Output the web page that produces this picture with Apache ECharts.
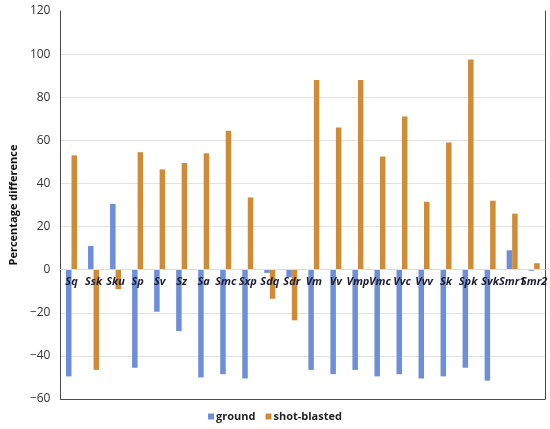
<!DOCTYPE html>
<html>
<head>
<meta charset="utf-8">
<script src="https://cdn.jsdelivr.net/npm/echarts@6/dist/echarts.min.js"></script>
<style>
  html, body { margin: 0; padding: 0; background: #fff; }
  #chart { width: 550px; height: 429px; }
</style>
</head>
<body>
<div id="chart"></div>
<script>
const categories = ['Sq', 'Ssk', 'Sku', 'Sp', 'Sv', 'Sz', 'Sa', 'Smc', 'Sxp', 'Sdq', 'Sdr',
  'Vm', 'Vv', 'Vmp', 'Vmc', 'Vvc', 'Vvv', 'Sk', 'Spk', 'Svk', 'Smr1', 'Smr2'];
const ground = [-49.5, 11, 30.5, -45.5, -19.5, -28.5, -50, -48.5, -50.5, -1.5, -3.5,
  -46.5, -48.5, -46.5, -49.5, -48.5, -50.5, -49.5, -45.5, -51.5, 9, -0.5];
const shotBlasted = [53, -46.5, -9, 54.5, 46.5, 49.5, 54, 64.5, 33.5, -13.5, -23.5,
  88, 66, 88, 52.5, 71, 31.5, 59, 97.5, 32, 26, 3];

const yMin = -60, yMax = 120;
const gridTop = 11, gridBottom = 30;
const chartHeight = 429;
const frameColor = '#4a4a4a';

const chart = echarts.init(document.getElementById('chart'), null, { renderer: 'canvas' });

// x labels sit just under the zero line, so shift the axis up from the bottom
const plotH = chartHeight - gridTop - gridBottom;
const zeroOffset = -plotH * (0 - yMin) / (yMax - yMin);

const frameAxis = { show: true, lineStyle: { color: frameColor } };

chart.setOption({
  animation: false,
  color: ['#6F8ED8', '#CF8C38'],
  grid: {
    left: 44,
    right: 3,
    top: gridTop,
    bottom: gridBottom
  },
  legend: {
    bottom: 2,
    left: 'center',
    itemWidth: 6,
    itemHeight: 6,
    itemGap: 10,
    icon: 'rect',
    textStyle: { fontFamily: 'Open Sans', fontWeight: 'bold', fontSize: 11, color: '#222', padding: [0, 0, 0, -3] },
    data: ['ground', 'shot-blasted']
  },
  xAxis: [
    {
      type: 'category',
      data: categories,
      position: 'bottom',
      offset: zeroOffset,
      z: 5,
      axisLine: { onZero: false, lineStyle: { color: '#ddd' } },
      axisTick: { show: false },
      axisLabel: {
        interval: 0,
        margin: 7,
        fontFamily: 'Open Sans',
        fontStyle: 'italic',
        fontWeight: 'bold',
        fontSize: 11,
        color: '#1c1c33'
      }
    },
    // frame: top and bottom edges
    { type: 'category', data: categories, position: 'top', axisLine: frameAxis,
      axisTick: { show: false }, axisLabel: { show: false } },
    { type: 'category', data: categories, position: 'bottom', axisLine: { onZero: false, show: true, lineStyle: { color: frameColor } },
      axisTick: { show: false }, axisLabel: { show: false } }
  ],
  yAxis: [
    {
      type: 'value',
      min: yMin,
      max: yMax,
      interval: 20,
      name: 'Percentage difference',
      nameLocation: 'middle',
      nameGap: 31,
      nameTextStyle: { fontFamily: 'Open Sans', fontWeight: 'bold', fontSize: 11, color: '#111' },
      axisLine: frameAxis,
      axisTick: { show: false },
      axisLabel: {
        fontFamily: 'Open Sans', fontSize: 12, color: '#333', margin: 10,
        formatter: v => String(v).replace('-', '\u2212')
      },
      splitLine: { showMinLine: false, showMaxLine: false, lineStyle: { color: '#e3e3e3' } }
    },
    { type: 'value', min: yMin, max: yMax, interval: 20, position: 'right',
      axisLine: frameAxis, axisTick: { show: false }, axisLabel: { show: false },
      splitLine: { show: false } }
  ],
  series: [
    { name: 'ground', type: 'bar', data: ground, barWidth: 5.5, barGap: '0%' },
    { name: 'shot-blasted', type: 'bar', data: shotBlasted, barWidth: 5.5, barGap: '0%' }
  ]
});
</script>
</body>
</html>
